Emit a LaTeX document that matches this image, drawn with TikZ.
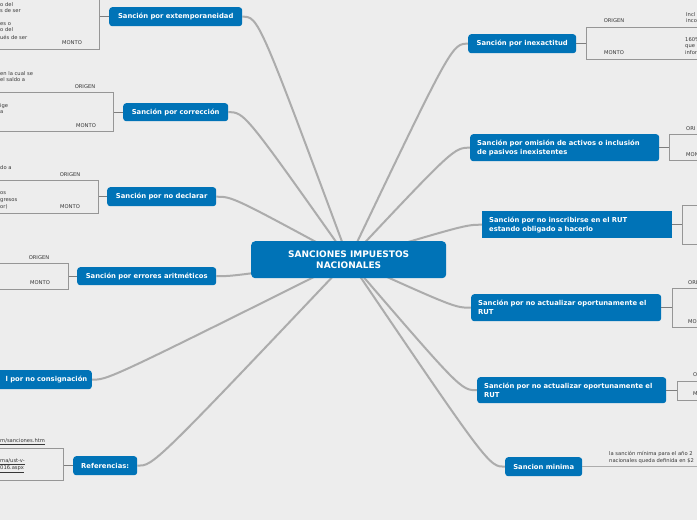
\documentclass[tikz,border=0pt]{standalone}
\usepackage{fontspec}
\setmainfont{DejaVu Sans}
\usetikzlibrary{calc,backgrounds}
\definecolor{bgcol}{RGB}{237,237,237}
\definecolor{nodeblue}{RGB}{0,115,183}
\definecolor{conncol}{RGB}{172,172,172}
\definecolor{boxcol}{RGB}{150,150,150}
\definecolor{stubcol}{RGB}{125,125,125}
\definecolor{txtcol}{RGB}{55,55,55}
\begin{document}
\begin{tikzpicture}[x=1pt,y=-1pt,
  branch/.style={fill=nodeblue, rounded corners=3pt, text=white,
    font=\bfseries\fontsize{6.8}{9}\selectfont, inner sep=0pt, anchor=north west},
  branchtwo/.style={branch, align=left},
  central/.style={fill=nodeblue, rounded corners=4pt, text=white,
    font=\bfseries\fontsize{9}{11}\selectfont, align=center, inner sep=0pt, anchor=north west},
  boxr/.style={draw=boxcol, line width=0.8pt, inner sep=0pt, anchor=north west},
  stub/.style={draw=stubcol, line width=1.2pt},
  conn/.style={draw=conncol, line width=2pt},
  small/.style={font=\fontsize{5.2}{6}\selectfont, text=txtcol, inner sep=0pt}
]
\useasboundingbox (0,0) rectangle (697,520);
\clip (0,0) rectangle (697,520);

% central node
\node[central, minimum width=195, minimum height=37] (c) at (251,241) {SANCIONES IMPUESTOS\\NACIONALES};

% left branches
\node[branch, minimum width=133, minimum height=19] (ext) at (109,7) {Sanción por extemporaneidad};
\node[branch, minimum width=105, minimum height=18] (cor) at (123,103) {Sanción por corrección};
\node[branch, minimum width=109, minimum height=19] (dec) at (107,187) {Sanción por no declarar};
\node[branch, minimum width=139, minimum height=18] (err) at (77,267) {Sanción por errores aritméticos};
\node[branch, minimum width=150, minimum height=19, anchor=north east, align=right, text width=141] (con) at (92,370) {l por no consignación};
\node[branch, minimum width=64, minimum height=19] (ref) at (73,456) {Referencias:};

% right branches
\node[branch, minimum width=108, minimum height=19] (inex) at (468,34) {Sanción por inexactitud};
\node[branchtwo, minimum width=189, minimum height=27, text width=175] (omi) at (470,134) {Sanción por omisión de activos o inclusión\\de pasivos inexistentes};
\node[branchtwo, rounded corners=0pt, minimum width=190, minimum height=27, text width=176] (ins) at (482,211) {Sanción por no inscribirse en el RUT\\estando obligado a hacerlo};
\node[branchtwo, minimum width=190, minimum height=27, text width=176] (act1) at (471,294) {Sanción por no actualizar oportunamente el\\RUT};
\node[branchtwo, minimum width=189, minimum height=26, text width=175] (act2) at (477,377) {Sanción por no actualizar oportunamente el\\RUT};
\node[branch, minimum width=77, minimum height=19] (min) at (505,457) {Sancion minima};

% boxes
\node[boxr, minimum width=109, minimum height=59] (bext) at (-10,-10) {};
\node[boxr, minimum width=123, minimum height=39] (bcor) at (-10,92) {};
\node[boxr, minimum width=108, minimum height=33] (bdec) at (-10,180) {};
\node[boxr, minimum width=78, minimum height=26] (berr) at (-10,263) {};
\node[boxr, minimum width=73, minimum height=32] (bref) at (-10,448) {};
\node[boxr, minimum width=124, minimum height=32] (binex) at (586,27) {};
\node[boxr, minimum width=41, minimum height=26] (bomi) at (669,134) {};
\node[boxr, minimum width=28, minimum height=39] (bins) at (682,205) {};
\node[boxr, minimum width=38, minimum height=39] (bact1) at (672,288) {};
\node[boxr, minimum width=33, minimum height=19] (bact2) at (677,381) {};
\coordinate (minend) at (700,466);

% stubs from nodes to boxes
\draw[stub] (ext.west) -- (ext.west -| bext.east);
\draw[stub] (cor.west) -- (cor.west -| bcor.east);
\draw[stub] (dec.west) -- (dec.west -| bdec.east);
\draw[stub] (err.west) -- (err.west -| berr.east);
\draw[stub] (ref.west) -- (ref.west -| bref.east);
\draw[stub] (inex.east) -- (inex.east -| binex.west);
\draw[stub] (omi.east) -- (omi.east -| bomi.west);
\draw[stub] (ins.east) -- (ins.east -| bins.west);
\draw[stub] (act1.east) -- (act1.east -| bact1.west);
\draw[stub] (act2.east) -- (act2.east -| bact2.west);
\draw[conn, line width=1.2pt] (min.east) -- (min.east -| minend);

% box labels (left)
\node[small] (m1) at (72,43) {MONTO};
\node[small] (o2) at (85,87) {ORIGEN};
\node[small] (m2) at (86,126) {MONTO};
\node[small] (o3) at (70,175) {ORIGEN};
\node[small] (m3) at (70,207) {MONTO};
\node[small] (o4) at (39,258) {ORIGEN};
\node[small] (m4) at (40,283) {MONTO};
% box labels (right)
\node[small] (o5) at (614,21) {ORIGEN};
\node[small] (m5) at (614,53) {MONTO};
\node[small, anchor=west] (o6) at (686,129) {ORI};
\node[small, anchor=west] (m6) at (686,155) {MON};
\node[small, anchor=west] (o8) at (688,283) {ORI};
\node[small, anchor=west] (m8) at (688,322) {MO};
\node[small, anchor=west] (o9) at (693,375) {O};
\node[small, anchor=west] (m9) at (693,394) {M};

% partial texts left
\node[small, anchor=west] (a1) at (0,5) {o del};
\node[small, anchor=west] (a2) at (0,11) {s de ser};
\node[small, anchor=west] (a3) at (0,24) {es o};
\node[small, anchor=west] (a4) at (0,30) {o del};
\node[small, anchor=west] (a5) at (0,37) {ués de ser};
\node[small, anchor=west] (b1) at (0,74) {en la cual se};
\node[small, anchor=west] (b2) at (0,80) {el saldo a};
\node[small, anchor=west] (b3) at (0,106) {ige};
\node[small, anchor=west] (b4) at (0,112) {a};
\node[small, anchor=west] (d1) at (0,168) {do a};
\node[small, anchor=west] (d2) at (0,193) {os};
\node[small, anchor=west] (d3) at (0,201) {gresos};
\node[small, anchor=west] (d4) at (0,207) {or)};
\node[small, anchor=west] (r1) at (0,442) {\underline{m/sanciones.htm}};
\node[small, anchor=west] (r2) at (0,462) {\underline{ma/ust-v-}};
\node[small, anchor=west] (r3) at (0,469) {\underline{016.aspx}};
% partial texts right
\node[small, anchor=west] (i1) at (686,15) {Incl};
\node[small, anchor=west] (i2) at (686,21) {inco};
\node[small, anchor=west] (i3) at (685,40) {160\%};
\node[small, anchor=west] (i4) at (685,47) {que};
\node[small, anchor=west] (i5) at (685,53) {infor};
\node[small, anchor=west] (s1) at (609,454) {la sanción mínima para el año 2};
\node[small, anchor=west] (s2) at (609,461) {nacionales queda definida en \$2};

% connectors from central node
\begin{scope}[on background layer]
\fill[bgcol] (0,0) rectangle (697,520);
\foreach \n in {ext,cor,dec,err,con,ref}{
  \draw[conn] (c.center) .. controls ($(\n.east)+(16,0)$) .. (\n.east);
}
\foreach \n in {inex,omi,ins,act1,act2,min}{
  \draw[conn] (c.center) .. controls ($(\n.west)+(-16,0)$) .. (\n.west);
}
\end{scope}
\end{tikzpicture}
\end{document}
